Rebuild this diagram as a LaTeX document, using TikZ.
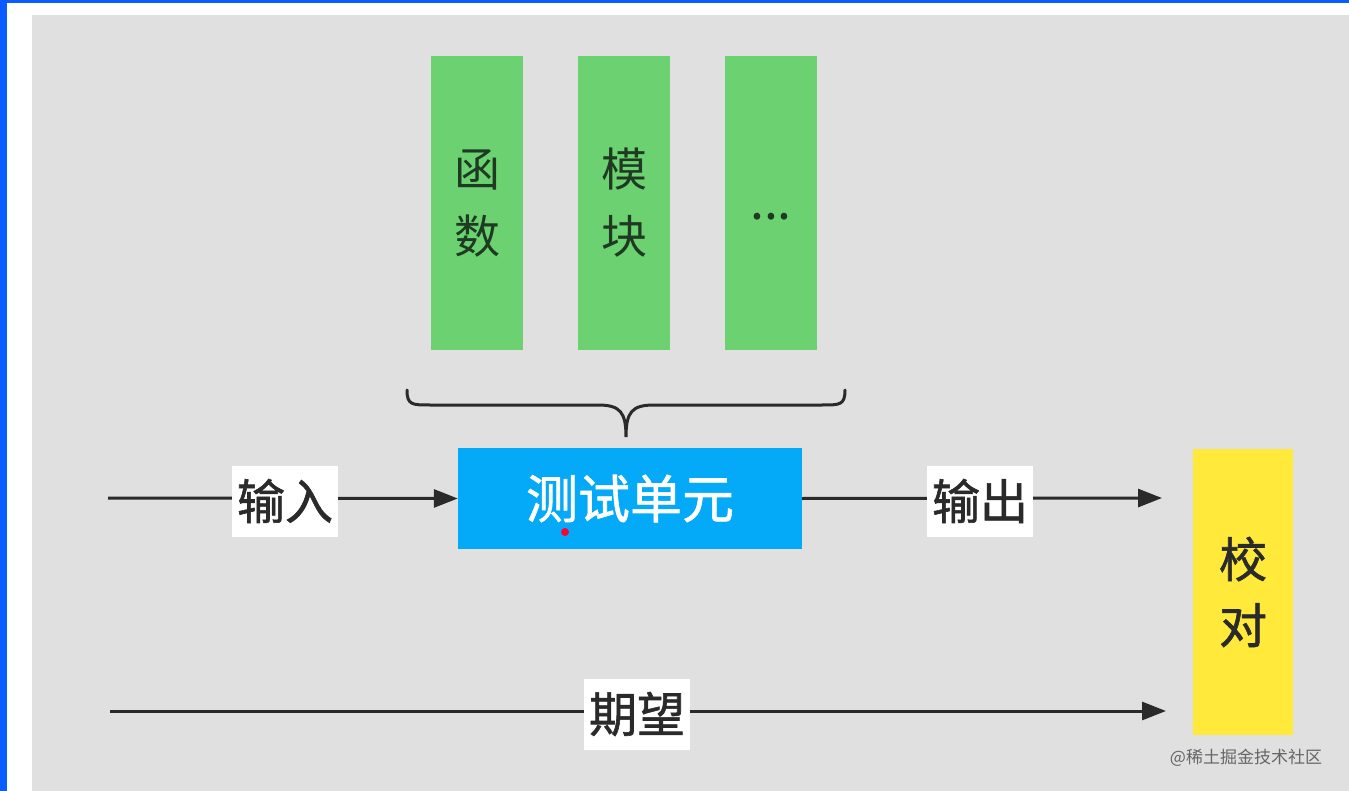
\documentclass[tikz,border=0pt]{standalone}
\usepackage{fontspec}
\newfontfamily\cjk{Noto Sans CJK SC}
\newfontfamily\cjkmed{Noto Sans CJK SC}[FakeBold=1.2]
\usetikzlibrary{arrows.meta}
\definecolor{bgray}{HTML}{E0E0E0}
\definecolor{frameblue}{HTML}{0A5CFF}
\definecolor{boxgreen}{HTML}{6CD271}
\definecolor{boxblue}{HTML}{04A9F8}
\definecolor{boxyellow}{HTML}{FFE93A}
\definecolor{ink}{HTML}{2A2A2A}
\definecolor{greenink}{HTML}{1F3A22}
\tikzset{
  greenbox/.style={fill=boxgreen, draw=none, minimum width=92pt, minimum height=294pt, inner sep=0pt, text=greenink, align=center, font=\cjk\fontsize{46}{67}\selectfont},
  unitbox/.style={fill=boxblue, draw=none, minimum width=344pt, minimum height=101pt, inner sep=0pt, text=white, font=\cjkmed\fontsize{52}{60}\selectfont},
  checkbox/.style={fill=boxyellow, draw=none, minimum width=100pt, minimum height=286pt, inner sep=0pt, text=ink, align=center, font=\cjkmed\fontsize{48}{66}\selectfont},
  flowlabel/.style={fill=white, text=ink, inner xsep=5pt, inner ysep=0pt, minimum height=71pt, font=\cjkmed\fontsize{48}{56}\selectfont},
  flow/.style={draw=ink, line width=3pt, -{Triangle[length=24pt,width=18pt]}},
  bracestyle/.style={draw=ink, line width=3pt, line cap=round}
}
\begin{document}
\begin{tikzpicture}[x=1pt,y=-1pt]
\useasboundingbox (0,0) rectangle (1349,791);
% frame
\fill[white] (0,0) rectangle (1349,791);
\fill[frameblue] (0,0) rectangle (1349,3);
\fill[frameblue] (0,0) rectangle (7,791);
\fill[bgray] (32,15) rectangle (1349,791);
% green boxes
\node[greenbox] (fn) at (477,203) {函\\数};
\node[greenbox] (mod) at (624,203) {模\\块};
\node[greenbox] (etc) at (771,203) {\smash{\raisebox{-17pt}{\fontsize{50}{50}\selectfont ...}}};
% brace
\draw[bracestyle] (407,390) .. controls (407,405) and (412,405) .. (430,405) -- (598,405)
  .. controls (620,405) and (626,412) .. (626,437)
  .. controls (626,412) and (632,405) .. (654,405) -- (822,405)
  .. controls (840,405) and (845,405) .. (845,390);
% unit box
\node[unitbox] (unit) at (630,498.5) {测试单元};
\fill[red!80!magenta] (565,532) circle (4pt);
% check box
\node[checkbox] (check) at (1243,592) {校\\对};
% input
\coordinate (inStart) at (108,498);
\draw[flow] (inStart) -- (unit.west);
\node[flowlabel] (inLabel) at (285,501) {输入};
% output
\coordinate (outEnd) at (1162,498);
\draw[flow] (unit.east) -- (outEnd);
\node[flowlabel] (outLabel) at (980,501) {输出};
% expectation
\coordinate (expStart) at (110,711);
\coordinate (expEnd) at (1166,711);
\draw[flow] (expStart) -- (expEnd);
\node[flowlabel] (expLabel) at (637,714) {期望};
% watermark
\node[text=black!60, font=\cjk\fontsize{17}{20}\selectfont, inner sep=0pt] (wm) at (1246,758) {@稀土掘金技术社区};
\end{tikzpicture}
\end{document}
